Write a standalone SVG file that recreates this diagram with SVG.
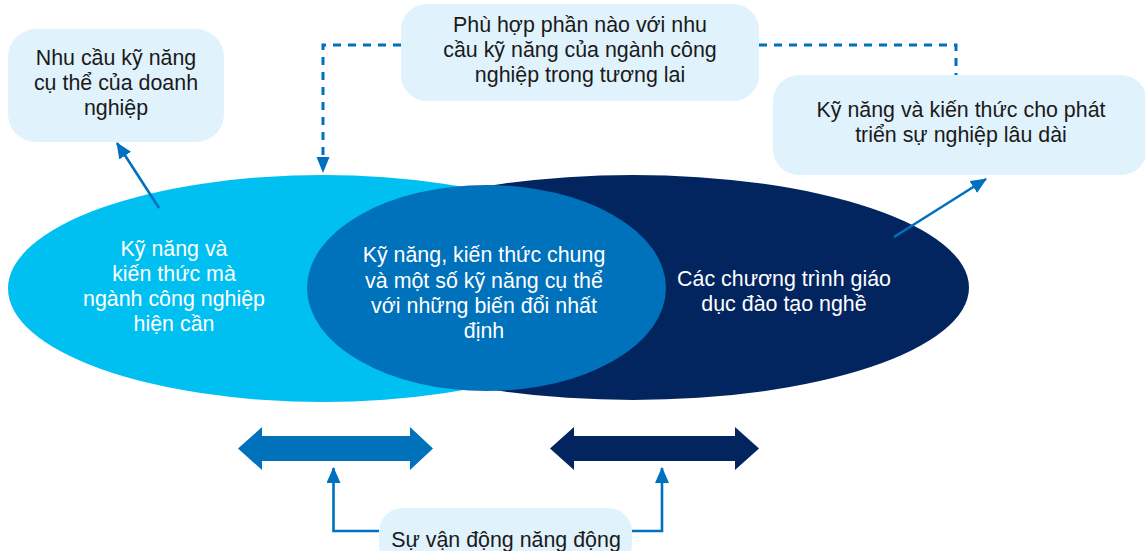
<svg xmlns="http://www.w3.org/2000/svg" width="1145" height="551" viewBox="0 0 1145 551">
<style>
.box{fill:#E0F2FC;}
.bt{font-family:"Liberation Sans",Arial,sans-serif;font-size:21.4px;fill:#1A1A1A;text-anchor:middle;}
.wt{font-family:"Liberation Sans",Arial,sans-serif;font-size:21.4px;fill:#FFFFFF;text-anchor:middle;}
.conn{fill:none;stroke:#0070C0;stroke-width:2.6;}
.dash{fill:none;stroke:#0070C0;stroke-width:3;stroke-dasharray:8 7;}
</style>
<defs>
<marker id="ah" viewBox="0 0 16 14" refX="15" refY="7" markerWidth="16" markerHeight="14" markerUnits="userSpaceOnUse" orient="auto">
<path d="M0,0 L16,7 L0,14 Z" fill="#0070C0"/>
</marker>
</defs>
<rect width="1145" height="551" fill="#FFFFFF"/>

<g id="ellipse-vocational">
<ellipse cx="633" cy="287.5" rx="336" ry="112.5" fill="#03255F"/>
</g>
<g id="ellipse-industry">
<ellipse cx="323" cy="288.5" rx="315" ry="113.5" fill="#00C0F2"/>
</g>
<g id="ellipse-common">
<ellipse cx="486.5" cy="288" rx="179.5" ry="103" fill="#0071BB"/>
</g>

<g id="text-industry">
<text class="wt" x="174"><tspan x="174" y="256">Kỹ năng và</tspan><tspan x="174" y="281">kiến thức mà</tspan><tspan x="174" y="306">ngành công nghiệp</tspan><tspan x="174" y="331">hiện cần</tspan></text>
</g>
<g id="text-common">
<text class="wt" x="484"><tspan x="484" y="262">Kỹ năng, kiến thức chung</tspan><tspan x="484" y="288">và một số kỹ năng cụ thể</tspan><tspan x="484" y="313">với những biến đổi nhất</tspan><tspan x="484" y="338">định</tspan></text>
</g>
<g id="text-vocational">
<text class="wt" x="784"><tspan x="784" y="286">Các chương trình giáo</tspan><tspan x="784" y="311">dục đào tạo nghề</tspan></text>
</g>

<g id="box-business">
<rect class="box" x="8" y="29" width="216" height="113" rx="28"/>
<text class="bt"><tspan x="116" y="65">Nhu cầu kỹ năng</tspan><tspan x="116" y="90">cụ thể của doanh</tspan><tspan x="116" y="115">nghiệp</tspan></text>
</g>
<g id="box-future">
<rect class="box" x="401" y="4" width="358" height="97" rx="26"/>
<text class="bt"><tspan x="580" y="32">Phù hợp phần nào với nhu</tspan><tspan x="580" y="57">cầu kỹ năng của ngành công</tspan><tspan x="580" y="82">nghiệp trong tương lai</tspan></text>
</g>
<g id="box-career">
<rect class="box" x="773" y="75" width="374" height="100" rx="26"/>
<text class="bt"><tspan x="961" y="117">Kỹ năng và kiến thức cho phát</tspan><tspan x="961" y="142">triển sự nghiệp lâu dài</tspan></text>
</g>
<g id="box-dynamic">
<rect class="box" x="379" y="508" width="253" height="60" rx="24"/>
<text class="bt"><tspan x="506" y="547">Sự vận động năng động</tspan></text>
</g>

<g id="double-arrow-left">
<path d="M238,448.5 L262,427 L262,436 L410,436 L410,427 L433,448.5 L410,470 L410,461 L262,461 L262,470 Z" fill="#0071BB"/>
</g>
<g id="double-arrow-right">
<path d="M550,448.5 L574,427 L574,436 L735,436 L735,427 L759,448.5 L735,470 L735,461 L574,461 L574,470 Z" fill="#03255F"/>
</g>

<g id="connectors">
<path class="dash" d="M401,45 L323,45 L323,158"/>
<path d="M316.5,157 L329.5,157 L323,173 Z" fill="#0070C0"/>
<path class="dash" d="M759,45 L956,45 L956,75"/>
<path class="conn" d="M159,208 L117,143" marker-end="url(#ah)"/>
<path class="conn" d="M894,237 L986,179" marker-end="url(#ah)"/>
<path class="conn" d="M379,531 L333.5,531 L333.5,468" marker-end="url(#ah)"/>
<path class="conn" d="M632,531 L662,531 L662,468" marker-end="url(#ah)"/>
</g>
</svg>
